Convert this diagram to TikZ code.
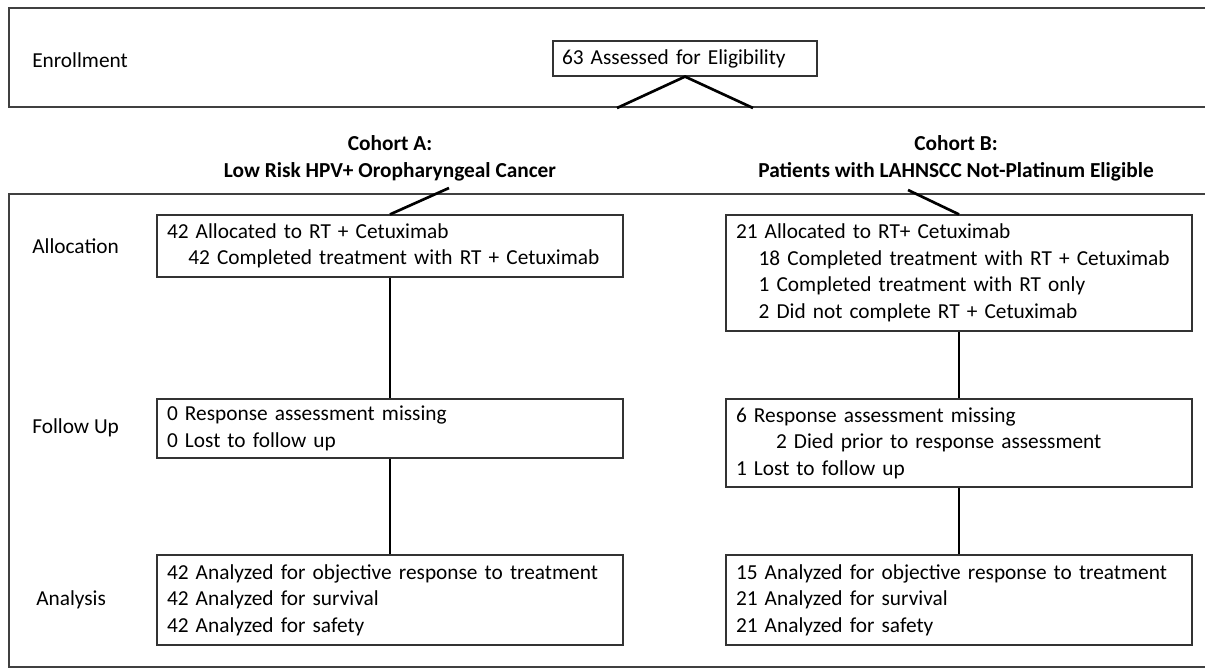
\documentclass[tikz,border=0pt]{standalone}
\usepackage{fontspec}
\setmainfont{Carlito}
\begin{document}
\begin{tikzpicture}[x=0.75pt,y=-0.75pt,
  every node/.style={font=\fontsize{16}{19.9}\selectfont, text=black},
  box/.style={draw=black!80, line width=0.9pt, align=left, inner xsep=0pt, inner ysep=0pt},
  wbox/.style={box, text width=334.5pt, minimum width=349.5pt},
  lab/.style={anchor=west, inner sep=0pt},
  cohort/.style={align=center, inner sep=0pt, font=\fontsize{16}{20.5}\selectfont\bfseries},
  conn/.style={line width=2pt, black},
  frame/.style={line width=1pt, draw=black!75}]
\useasboundingbox (0,0) rectangle (1205,669);
% frames
\draw[frame] (1205,8) -- (9,8) -- (9,107) -- (1205,107);
\draw[frame] (1205,194) -- (9,194) -- (9,667) -- (1205,667);
% stage labels
\node[lab] (enr) at (32,60) {Enrollment};
\node[lab] (alo) at (32,246) {Allocation};
\node[lab] (fol) at (32,428) {Follow Up};
\node[lab] (ana) at (36,600) {Analysis};
% enrollment box
\node[box, text width=184.5pt, minimum width=198pt, minimum height=26.25pt] (elig) at (685,58.5) {63 Assessed for Eligibility};
\coordinate (tl) at (617,108);
\coordinate (tr) at (753,108);
\draw[conn] (tl) -- (elig.south) -- (tr);
% cohorts
\node[cohort] (ca) at (390,158) {Cohort A:\\Low Risk HPV+ Oropharyngeal Cancer};
\node[cohort] (cb) at (956,158) {Cohort B:\\Patients with LAHNSCC Not-Platinum Eligible};
% boxes
\node[wbox, minimum height=46.5pt] (a1) at (390,246) {42 Allocated to RT + Cetuximab\\\hspace*{16pt}42 Completed treatment with RT + Cetuximab};
\node[wbox, minimum height=87pt] (b1) at (959,273) {21 Allocated to RT+ Cetuximab\\\hspace*{17pt}18 Completed treatment with RT + Cetuximab\\\hspace*{17pt}1 Completed treatment with RT only\\\hspace*{17pt}2 Did not complete RT + Cetuximab};
\node[wbox, minimum height=44.25pt] (a2) at (390,428.5) {0 Response assessment missing\\0 Lost to follow up};
\node[wbox, minimum height=66pt] (b2) at (959,443) {6 Response assessment missing\\\hspace*{30pt}2 Died prior to response assessment\\1 Lost to follow up};
\node[wbox, minimum height=67.5pt] (a3) at (390,600) {42 Analyzed for objective response to treatment\\42 Analyzed for survival\\42 Analyzed for safety};
\node[wbox, minimum height=67.5pt] (b3) at (959,600) {15 Analyzed for objective response to treatment\\21 Analyzed for survival\\21 Analyzed for safety};
% connectors
\coordinate (da) at (449,188);
\coordinate (db) at (908,190);
\draw[conn] (da) -- (a1.north);
\draw[conn] (db) -- (b1.north);
\draw[conn] (a1.south) -- (a2.north);
\draw[conn] (a2.south) -- (a3.north);
\draw[conn] (b1.south) -- (b2.north);
\draw[conn] (b2.south) -- (b3.north);
\end{tikzpicture}
\end{document}
